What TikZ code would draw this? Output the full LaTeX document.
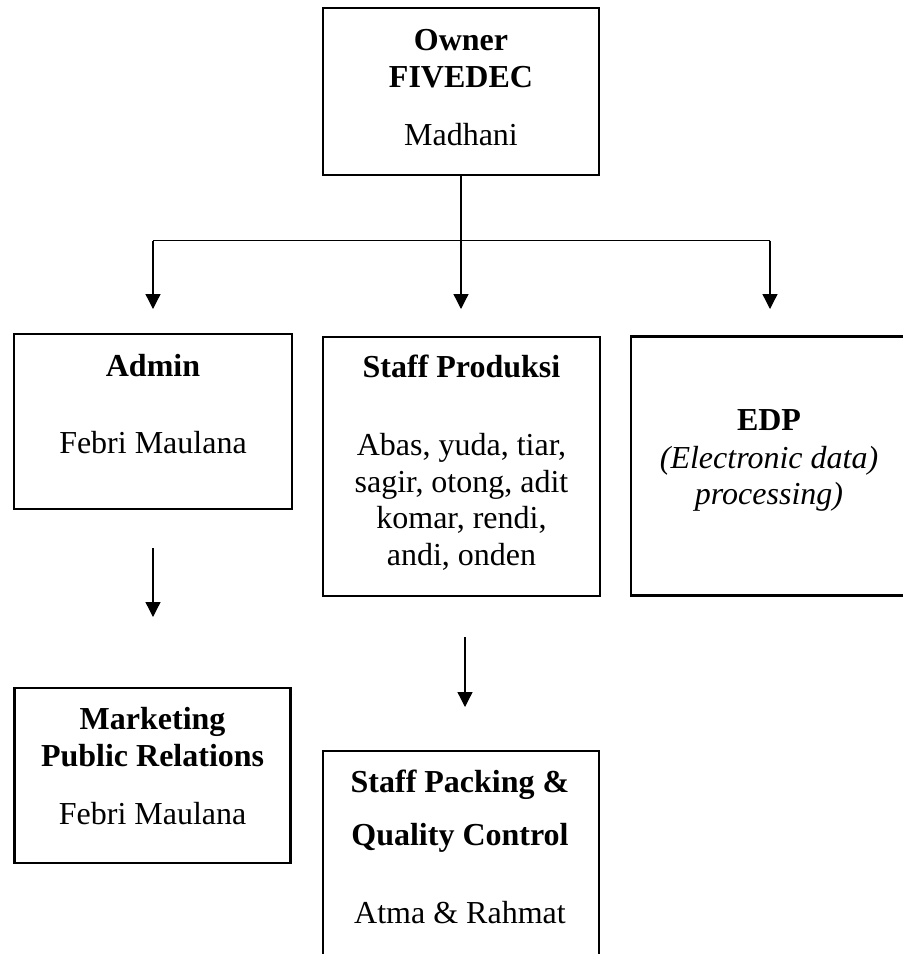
\documentclass[tikz,border=0pt]{standalone}
\usepackage{fontspec}
\setmainfont{Liberation Serif}
\usetikzlibrary{arrows.meta}
\begin{document}
\begin{tikzpicture}[x=1pt,y=-1pt,
  box/.style={draw=black,line width=2.5pt,rectangle,inner sep=0pt},
  txt/.style={anchor=base,inner sep=0pt,font=\fontsize{32}{37}\selectfont},
  conn/.style={draw=black,line width=1.3pt},
  arr/.style={conn,-{Triangle[length=15pt,width=15pt]}}]
\useasboundingbox (0,0) rectangle (903,954);
\clip (0,0) rectangle (903,954);
% boxes
\node[box,minimum width=276pt,minimum height=167pt] (owner) at (461,91.5) {};
\node[box,minimum width=278pt,minimum height=175pt] (admin) at (153,421.5) {};
\node[box,minimum width=277pt,minimum height=259pt] (prod) at (461.5,466.5) {};
\node[box,minimum width=279pt,minimum height=259pt] (edp) at (770.5,466) {};
\node[box,minimum width=276pt,minimum height=175pt] (mkt) at (152.6,775.5) {};
\node[box,minimum width=276pt,minimum height=260pt] (pack) at (461,881) {};
% texts
\node[txt] (o1) at (461,50) {\bfseries Owner};
\node[txt] (o2) at (461,87) {\bfseries FIVEDEC};
\node[txt] (o3) at (461,145) {Madhani};
\node[txt] (a1) at (153,376) {\bfseries Admin};
\node[txt] (a2) at (153,453) {Febri Maulana};
\node[txt] (p1) at (461.5,377) {\bfseries Staff Produksi};
\node[txt] (p2) at (461.5,455) {Abas, yuda, tiar,};
\node[txt] (p3) at (461.5,492) {sagir, otong, adit};
\node[txt] (p4) at (461.5,528) {komar, rendi,};
\node[txt] (p5) at (461.5,565) {andi, onden};
\node[txt] (e1) at (769,430) {\bfseries EDP};
\node[txt] (e2) at (769,468) {\itshape (Electronic data)};
\node[txt] (e3) at (769,504) {\itshape processing)};
\node[txt] (m1) at (152.6,729) {\bfseries Marketing};
\node[txt] (m2) at (152.6,766) {\bfseries Public Relations};
\node[txt] (m3) at (152.6,824) {Febri Maulana};
\node[txt] (k1) at (460,792) {\bfseries Staff Packing \&};
\node[txt] (k2) at (460,845) {\bfseries Quality Control};
\node[txt] (k3) at (460,923) {Atma \& Rahmat};
% connectors
\coordinate (hl) at (153,240.5);
\coordinate (hr) at (770,240.5);
\coordinate (tl) at (153,309);
\coordinate (tm) at (461,309);
\coordinate (tr) at (770,309);
\coordinate (as) at (153,548);
\coordinate (ae) at (153,617);
\coordinate (ps) at (465,637);
\coordinate (pe) at (465,707);
\draw[conn] (hl) -- (hr);
\draw[arr] (owner.south) -- (tm);
\draw[arr] (hl) -- (tl);
\draw[arr] (hr) -- (tr);
\draw[arr] (as) -- (ae);
\draw[arr] (ps) -- (pe);
\end{tikzpicture}
\end{document}
